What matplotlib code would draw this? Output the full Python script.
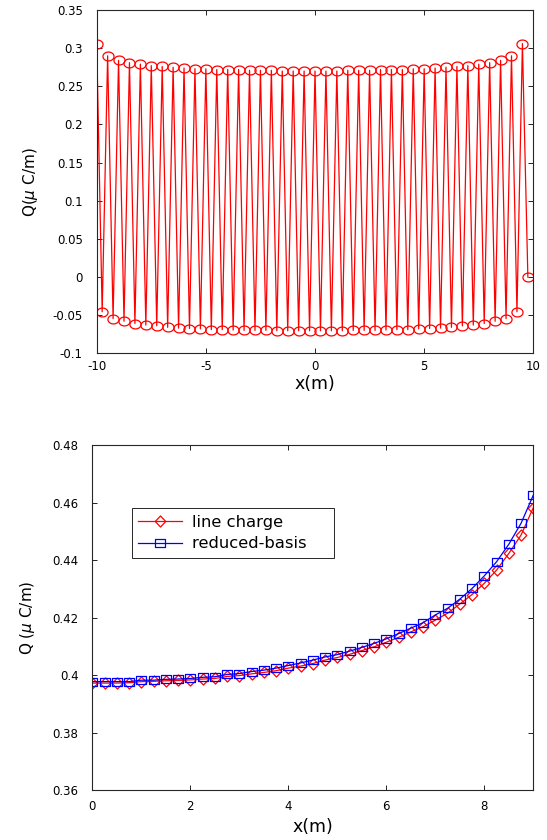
import numpy as np
import matplotlib
matplotlib.use('Agg')
import matplotlib.pyplot as plt
from matplotlib.path import Path

plt.rcParams['font.family'] = ['DejaVu Sans']
plt.rcParams['axes.unicode_minus'] = False

# --- top panel: alternating charge along the line (x step 0.25 m) ---
x_top = np.arange(-10, 10, 0.25)
q_high = [0.306, 0.290, 0.284, 0.281, 0.279, 0.277, 0.276, 0.275, 0.274, 0.273,
          0.273, 0.272, 0.272, 0.272, 0.271, 0.271, 0.271, 0.270, 0.270, 0.270,
          0.270, 0.270, 0.270, 0.271, 0.271, 0.271, 0.272, 0.272, 0.272, 0.273,
          0.273, 0.274, 0.275, 0.276, 0.277, 0.279, 0.281, 0.284, 0.290, 0.306]
q_low = [-0.0455, -0.0545, -0.058, -0.061, -0.063, -0.064, -0.066, -0.067, -0.0675, -0.068,
         -0.069, -0.069, -0.0695, -0.070, -0.070, -0.070, -0.0705, -0.0705, -0.0705, -0.0705,
         -0.0705, -0.0705, -0.0705, -0.070, -0.070, -0.070, -0.0695, -0.069, -0.069, -0.068,
         -0.0675, -0.067, -0.066, -0.064, -0.063, -0.061, -0.058, -0.0545, -0.0455, 0.0]
q_top = np.ravel(np.column_stack([q_high, q_low]))

top_xticks = [-10, -5, 0, 5, 10]
top_yticks = [-0.1, -0.05, 0, 0.05, 0.1, 0.15, 0.2, 0.25, 0.3, 0.35]
top_ylabels = ['-0.1', '-0.05', '0', '0.05', '0.1', '0.15', '0.2', '0.25', '0.3', '0.35']

# --- bottom panel: half line, two methods ---
x_bot = np.arange(0, 9.01, 0.25)
q_line = [0.3972, 0.3972, 0.3972, 0.3973, 0.3977, 0.3978, 0.3980, 0.3981, 0.3983, 0.3986,
          0.3988, 0.3995, 0.3998, 0.4004, 0.4009, 0.4015, 0.4024, 0.4031, 0.4040, 0.4052,
          0.4061, 0.4072, 0.4085, 0.4098, 0.4114, 0.4131, 0.4150, 0.4168, 0.4191, 0.4215,
          0.4247, 0.4280, 0.4319, 0.4365, 0.4423, 0.4487, 0.4582]
q_rb = [0.3977, 0.3977, 0.3977, 0.3977, 0.3982, 0.3982, 0.3985, 0.3986, 0.3988, 0.3992,
        0.3994, 0.4002, 0.4005, 0.4012, 0.4017, 0.4024, 0.4033, 0.4042, 0.4052, 0.4063,
        0.4071, 0.4083, 0.4096, 0.4110, 0.4126, 0.4144, 0.4163, 0.4182, 0.4209, 0.4232,
        0.4264, 0.4301, 0.4345, 0.4394, 0.4455, 0.4528, 0.4626]

bot_xticks = [0, 2, 4, 6, 8]
bot_yticks = [0.36, 0.38, 0.40, 0.42, 0.44, 0.46, 0.48]
bot_ylabels = ['0.36', '0.38', '0.4', '0.42', '0.44', '0.46', '0.48']

# slightly squashed markers, like the stretched original
t = np.linspace(0, 2 * np.pi, 41)
ellipse = Path(np.column_stack([np.cos(t), 0.8 * np.sin(t)]), closed=True)
square = Path([(-1, -0.78), (1, -0.78), (1, 0.78), (-1, 0.78), (-1, -0.78)], closed=True)
diamond = Path([(0, 1), (0.95, 0), (0, -1), (-0.95, 0), (0, 1)], closed=True)

spine_c = '#262626'


def style(ax):
    ax.tick_params(direction='in', length=3.5, width=0.6, top=True, right=True,
                   labelsize=8.5, colors='black')
    for s in ax.spines.values():
        s.set_color(spine_c)
        s.set_linewidth(0.8)


fig = plt.figure(figsize=(5.47, 8.4), dpi=100)

ax1 = fig.add_axes([0.1768, 0.5794, 0.7982, 0.4087])
ax1.plot(x_top, q_top, color='red', lw=0.9, marker=ellipse, ms=8,
         mfc='none', mec='red', mew=0.9)
ax1.set_xlim(-10, 10)
ax1.set_ylim(-0.1, 0.35)
ax1.set_xticks(top_xticks)
ax1.set_yticks(top_yticks)
ax1.set_yticklabels(top_ylabels)
style(ax1)
ax1.tick_params(axis='y', pad=10)
ax1.tick_params(axis='x', pad=5)
ax1.set_xlabel('x(m)', fontsize=12.5)
ax1.set_ylabel(r'Q($\mu$ C/m)', fontsize=11)
ax1.xaxis.set_label_coords(0.5, -0.062)
ax1.yaxis.set_label_coords(-0.13, 0.5)

ax2 = fig.add_axes([0.1687, 0.0595, 0.8063, 0.4107])
ax2.plot(x_bot, q_line, color='red', lw=0.9, marker=diamond, ms=8,
         mfc='none', mec='red', mew=0.9, label='line charge')
ax2.plot(x_bot, q_rb, color='blue', lw=0.9, marker=square, ms=7.2,
         mfc='none', mec='blue', mew=0.9, label='reduced-basis')
ax2.set_xlim(0, 9)
ax2.set_ylim(0.36, 0.48)
ax2.set_xticks(bot_xticks)
ax2.set_yticks(bot_yticks)
ax2.set_yticklabels(bot_ylabels)
style(ax2)
ax2.tick_params(axis='y', pad=10)
ax2.tick_params(axis='x', pad=7)
ax2.set_xlabel('x(m)', fontsize=12.5)
ax2.set_ylabel(r'Q ($\mu$ C/m)', fontsize=11)
ax2.xaxis.set_label_coords(0.5, -0.08)
ax2.yaxis.set_label_coords(-0.125, 0.5)

handles, labels = ax2.get_legend_handles_labels()
# trailing spaces widen the box like the original legend
leg = ax2.legend(handles, [s + '    ' for s in labels],
                 loc='upper left', bbox_to_anchor=(0.089, 0.8165), borderaxespad=0,
                 fontsize=11.8, handlelength=2.7, fancybox=False, framealpha=1,
                 edgecolor=spine_c, labelspacing=0.4, borderpad=0.4,
                 handletextpad=0.6)
leg.get_frame().set_linewidth(0.7)

fig.savefig('out.png', dpi=100)
